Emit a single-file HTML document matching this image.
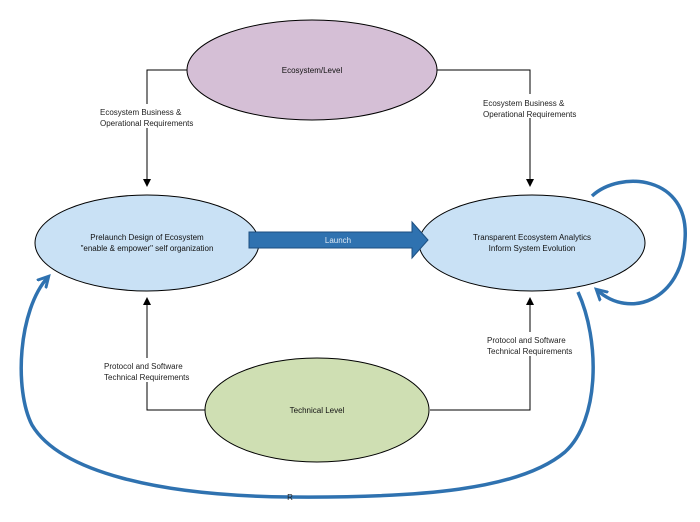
<!DOCTYPE html>
<html><head><meta charset="utf-8"><style>
html,body{margin:0;padding:0;background:#fff;}
svg{display:block;font-family:"Liberation Sans",sans-serif;}
</style></head><body>
<svg width="700" height="522" viewBox="0 0 700 522" xmlns="http://www.w3.org/2000/svg">
<defs>
<marker id="a" markerWidth="8" markerHeight="8" refX="7" refY="4" orient="auto" markerUnits="userSpaceOnUse"><path d="M0,0 L8,4 L0,8 z" fill="#000"/></marker>
<marker id="b" markerWidth="14" markerHeight="14" refX="10" refY="7" orient="auto" markerUnits="userSpaceOnUse"><path d="M0,1 L11,7 L0,13" fill="none" stroke="#2f72b0" stroke-width="3"/></marker>
</defs>
<g fill="none" stroke="#000" stroke-width="1">
<path d="M188,70 H147 V186" marker-end="url(#a)"/>
<path d="M437,70 H530 V186" marker-end="url(#a)"/>
<path d="M205,410 H147 V298" marker-end="url(#a)"/>
<path d="M430,410 H530 V298" marker-end="url(#a)"/>
</g>
<g font-size="8" fill="#222">
<rect x="96" y="104" width="102" height="24" fill="#fff"/>
<text x="100" y="115">Ecosystem Business &amp;</text>
<text x="100" y="126">Operational Requirements</text>
<rect x="480" y="94" width="102" height="24" fill="#fff"/>
<text x="483" y="106">Ecosystem Business &amp;</text>
<text x="483" y="117">Operational Requirements</text>
<rect x="100" y="358" width="95" height="24" fill="#fff"/>
<text x="104" y="369">Protocol and Software</text>
<text x="104" y="380">Technical Requirements</text>
<rect x="484" y="332" width="95" height="24" fill="#fff"/>
<text x="487" y="343">Protocol and Software</text>
<text x="487" y="354">Technical Requirements</text>
</g>
<ellipse cx="312" cy="70" rx="125" ry="50" fill="#d5bfd6" stroke="#000"/>
<ellipse cx="147" cy="243" rx="112" ry="48" fill="#c9e1f5" stroke="#000"/>
<ellipse cx="532" cy="243" rx="113" ry="48" fill="#c9e1f5" stroke="#000"/>
<ellipse cx="317" cy="410" rx="112" ry="52" fill="#cfdfb3" stroke="#000"/>
<path d="M249,232 H412 V222 L428,240 L412,258 V248 H249 Z" fill="#2f72b0" stroke="#1d4f80"/>
<g font-size="8" text-anchor="middle" fill="#111">
<text x="312" y="73">Ecosystem/Level</text>
<text x="147" y="240">Prelaunch Design of Ecosystem</text>
<text x="147" y="251">"enable &amp; empower" self organization</text>
<text x="532" y="240">Transparent Ecosystem Analytics</text>
<text x="532" y="251">Inform System Evolution</text>
<text x="317" y="413">Technical Level</text>
<text x="338" y="243" fill="#dde9f5">Launch</text>
</g>
<g fill="none" stroke="#2f72b0" stroke-width="3.5">
<path d="M592,196 C620,170 690,175 685,240 C682,300 630,320 597,290" marker-end="url(#b)"/>
<path d="M578,292 C600,340 600,420 565,452 C520,490 420,498 290,497 C160,496 60,472 32,425 C14,390 18,310 48,277" marker-end="url(#b)"/>
</g>
<text x="290" y="500" font-size="8" text-anchor="middle" fill="#222">R</text>
</svg>
</body></html>
